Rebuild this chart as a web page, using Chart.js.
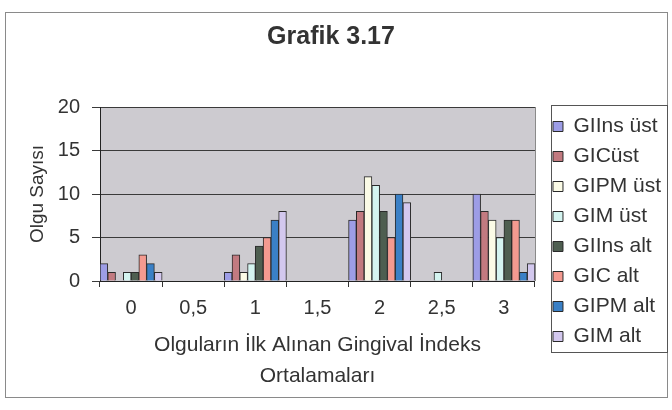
<!DOCTYPE html>
<html>
<head>
<meta charset="utf-8">
<script src="https://cdn.jsdelivr.net/npm/chart.js@4.4.1/dist/chart.umd.min.js"></script>
<style>
  html, body { margin: 0; padding: 0; background: #ffffff; }
  #wrap { width: 672px; height: 410px; }
</style>
</head>
<body>
<div id="wrap"><canvas id="c" width="672" height="410"></canvas></div>
<script>
// ---- data ----
const chartTitle = 'Grafik 3.17';
const categories = ['0', '0,5', '1', '1,5', '2', '2,5', '3'];
const seriesNames = ['GIIns üst', 'GICüst', 'GIPM üst', 'GIM üst', 'GIIns alt', 'GIC alt', 'GIPM alt', 'GIM alt'];
const giinsUst = [2, 0, 1, 0, 7, 0, 10];
const gicUst   = [1, 0, 3, 0, 8, 0, 8];
const gipmUst  = [0, 0, 1, 0, 12, 0, 7];
const gimUst   = [1, 0, 2, 0, 11, 1, 5];
const giinsAlt = [1, 0, 4, 0, 8, 0, 7];
const gicAlt   = [3, 0, 5, 0, 5, 0, 7];
const gipmAlt  = [2, 0, 7, 0, 10, 0, 1];
const gimAlt   = [1, 0, 8, 0, 9, 0, 2];
const yTicks = [0, 5, 10, 15, 20];
const yTitle = 'Olgu Sayısı';
const xTitle = ['Olguların İlk Alınan Gingival İndeks', 'Ortalamaları'];

const seriesValues = [giinsUst, gicUst, gipmUst, gimUst, giinsAlt, gicAlt, gipmAlt, gimAlt];
const seriesColors = ['#9d9de6', '#c27a80', '#fbfbe6', '#d4f4f0', '#4e5e50', '#f49a90', '#3a80c6', '#d3c8ee'];

const FONT = '"Liberation Sans", Arial, sans-serif';
const TXT = '#333333';

const decor = {
  id: 'decor',
  afterLayout(chart) {
    const lg = chart.legend;
    if (lg) { lg.left += 9; lg.right += 9; }
  },
  beforeDraw(chart) {
    const ctx = chart.ctx, a = chart.chartArea;
    ctx.save();
    ctx.fillStyle = '#ffffff';
    ctx.fillRect(0, 0, chart.width, chart.height);
    ctx.strokeStyle = '#8a8a8a';
    ctx.lineWidth = 1;
    ctx.strokeRect(5.5, 12.5, 662, 385);
    ctx.fillStyle = '#cdcbd0';
    ctx.fillRect(a.left, a.top, a.right - a.left, a.bottom - a.top);
    ctx.restore();
  },
  afterDraw(chart) {
    const ctx = chart.ctx, a = chart.chartArea, lg = chart.legend;
    ctx.save();
    ctx.strokeStyle = '#8a8a8a';
    ctx.lineWidth = 1;
    ctx.beginPath();
    ctx.moveTo(Math.round(a.right) + 0.5, a.top);
    ctx.lineTo(Math.round(a.right) + 0.5, a.bottom);
    ctx.stroke();
    if (lg) {
      ctx.strokeStyle = '#555555';
      const x0 = Math.round(lg.left + 9 - 2) + 0.5;
      ctx.strokeRect(x0, 105.5, 667.5 - x0, 247);
    }
    ctx.restore();
  }
};

new Chart(document.getElementById('c'), {
  type: 'bar',
  data: {
    labels: categories,
    datasets: seriesNames.map((name, i) => ({
      label: name,
      data: seriesValues[i],
      backgroundColor: seriesColors[i],
      borderColor: '#2a2a2a',
      borderWidth: 1,
      categoryPercentage: 1.0,
      barPercentage: 1.0
    }))
  },
  options: {
    responsive: false,
    animation: false,
    devicePixelRatio: 1,
    layout: { padding: { left: 0, right: 10, top: 0, bottom: 0 } },
    plugins: {
      title: {
        display: true,
        text: chartTitle,
        color: TXT,
        font: { family: FONT, size: 25, weight: 'bold', lineHeight: 1.2 },
        padding: { top: 22, bottom: 55 }
      },
      legend: {
        display: true,
        position: 'right',
        align: 'start',
        title: { display: true, text: '', font: { size: 10, lineHeight: 1 }, padding: { top: 97, bottom: 0 } },
        labels: {
          boxWidth: 10,
          boxHeight: 10,
          padding: 9,
          color: TXT,
          font: { family: FONT, size: 21 }
        }
      },
      tooltip: { enabled: false }
    },
    scales: {
      x: {
        grid: { display: true, drawOnChartArea: false, drawTicks: true, tickLength: 6, color: '#333333' },
        border: { display: true, color: '#222222' },
        ticks: { color: TXT, padding: 9, font: { family: FONT, size: 20 }, maxRotation: 0 },
        title: {
          display: true,
          text: xTitle,
          color: TXT,
          font: { family: FONT, size: 21, lineHeight: 31 / 21 },
          padding: { top: 0, bottom: 18.5 }
        },
        afterFit(scale) { scale.height = 129; }
      },
      y: {
        min: 0,
        max: 20,
        afterBuildTicks(scale) { scale.ticks = yTicks.map(v => ({ value: v })); },
        grid: { color: '#3a3a3a', lineWidth: 1, tickLength: 8 },
        border: { display: true, color: '#222222' },
        ticks: { color: TXT, padding: 12, font: { family: FONT, size: 20 } },
        title: {
          display: true,
          text: yTitle,
          color: TXT,
          font: { family: FONT, size: 19, lineHeight: 1.2 },
          padding: { top: 26, bottom: 0 }
        },
        afterFit(scale) { scale.width = 100; }
      }
    }
  },
  plugins: [decor]
});
</script>
</body>
</html>
